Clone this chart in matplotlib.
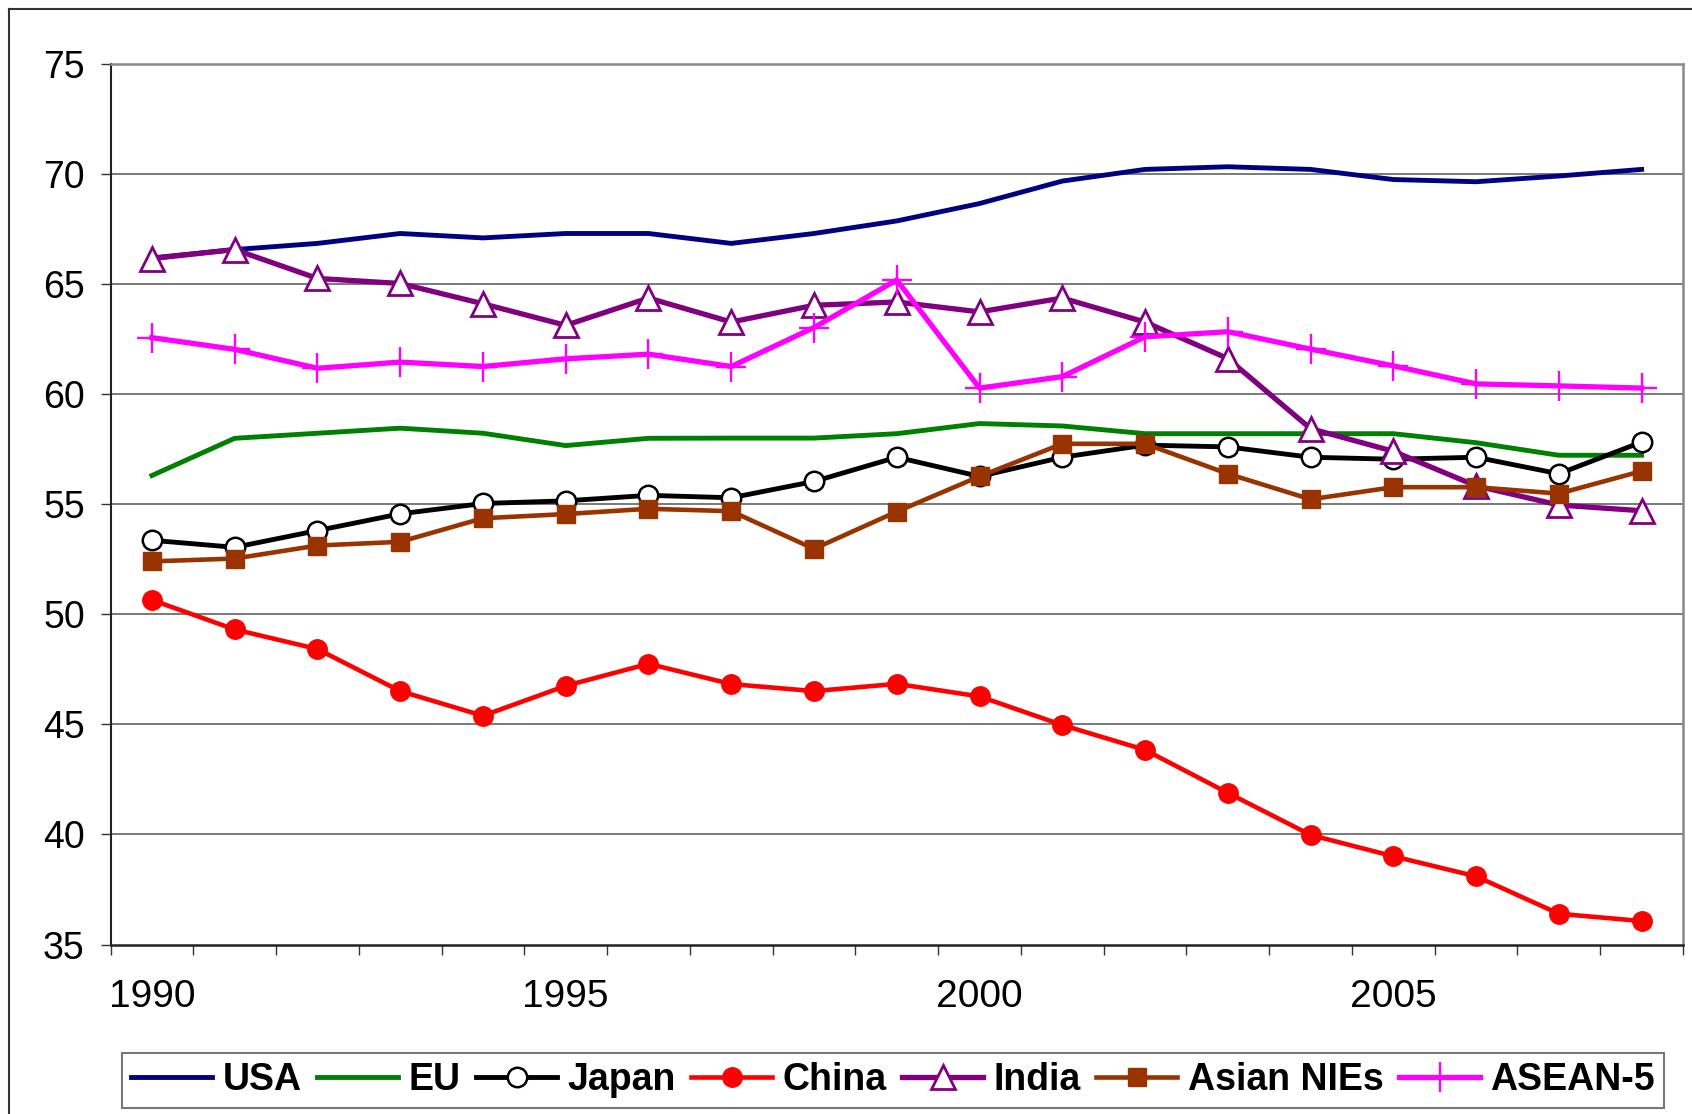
import matplotlib
matplotlib.use('Agg')
import matplotlib.pyplot as plt
from matplotlib.lines import Line2D
import numpy as np

plt.rcParams['font.family'] = ['Liberation Sans', 'DejaVu Sans']

years = list(range(1990, 2009))
usa = [66.18, 66.56, 66.84, 67.29, 67.09, 67.29, 67.29, 66.84, 67.29, 67.86,
       68.65, 69.67, 70.2, 70.32, 70.2, 69.74, 69.64, 69.9, 70.2]
eu = [56.3, 57.99, 58.22, 58.45, 58.22, 57.66, 57.99, 58.0, 58.0, 58.2,
      58.66, 58.55, 58.2, 58.2, 58.2, 58.2, 57.79, 57.22, 57.22]
japan = [53.36, 53.04, 53.8, 54.56, 55.03, 55.15, 55.4, 55.29, 56.03, 57.13,
         56.26, 57.13, 57.68, 57.6, 57.13, 57.04, 57.13, 56.38, 57.82]
china = [50.65, 49.31, 48.42, 46.51, 45.39, 46.75, 47.75, 46.83, 46.51, 46.84,
         46.27, 44.97, 43.84, 41.89, 39.98, 39.01, 38.1, 36.4, 36.07]
india = [66.15, 66.56, 65.25, 65.02, 64.1, 63.12, 64.36, 63.27, 64.03, 64.18,
         63.73, 64.36, 63.27, 61.61, 58.43, 57.4, 55.83, 54.96, 54.7]
nies = [52.4, 52.53, 53.12, 53.29, 54.36, 54.55, 54.79, 54.68, 52.97, 54.66,
        56.26, 57.74, 57.74, 56.38, 55.22, 55.77, 55.77, 55.48, 56.5]
asean = [62.56, 62.03, 61.17, 61.45, 61.25, 61.6, 61.81, 61.25, 63.02, 65.18,
         60.27, 60.79, 62.6, 62.83, 62.04, 61.28, 60.46, 60.37, 60.27]

series_names = ["USA", "EU", "Japan", "China", "India", "Asian NIEs", "ASEAN-5"]
x_tick_years = [1990, 1995, 2000, 2005]
y_ticks = [35, 40, 45, 50, 55, 60, 65, 70, 75]

W, H = 1692, 1114
fig = plt.figure(figsize=(W / 100, H / 100), dpi=100)
left, right, top, bottom = 110.5, 1683, 63.7, 944.6
ax = fig.add_axes([left / W, 1 - bottom / H, (right - left) / W, (bottom - top) / H])

ax.plot(years, usa, color='#000080', lw=3.5, label=series_names[0], zorder=3)
ax.plot(years, eu, color='#008000', lw=3.5, label=series_names[1], zorder=3)
ax.plot(years, japan, color='black', lw=3.5, marker='o', ms=14,
        mfc='white', mec='black', mew=1.8, label=series_names[2], zorder=4)
ax.plot(years, china, color='#FF0000', lw=3.3, marker='o', ms=14,
        mfc='#FF0000', mec='#FF0000', label=series_names[3], zorder=4)
ax.plot(years, india, color='#800080', lw=3.8, marker='^', ms=17,
        mfc='white', mec='#800080', mew=2.0, label=series_names[4], zorder=5)
ax.plot(years, nies, color='#993300', lw=3.3, marker='s', ms=13.5,
        mfc='#993300', mec='#993300', label=series_names[5], zorder=6)
ax.plot(years, asean, color='#FF00FF', lw=3.8, marker='+', ms=21,
        mew=1.7, label=series_names[6], zorder=7)

ax.set_xlim(years[0] - 0.5, years[-1] + 0.5)
ax.set_ylim(y_ticks[0], y_ticks[-1])
ax.set_yticks(y_ticks)
ax.set_yticklabels([str(v) for v in y_ticks], fontsize=27)
ax.set_xticks(x_tick_years)
ax.set_xticklabels([str(v) for v in x_tick_years], fontsize=28)
ax.set_xticks(np.arange(years[0] - 0.5, years[-1] + 1.0, 1.0), minor=True)
ax.tick_params(axis='x', which='major', length=0, pad=25)
ax.tick_params(axis='x', which='minor', length=7.5, width=1.0, direction='out', color='#333333')
ax.tick_params(axis='y', which='major', length=7.5, width=1.0, direction='out', pad=11, color='#333333')

for v in y_ticks[1:-1]:
    ax.axhline(v, color='#555555', lw=1.1, zorder=1)

ax.spines['left'].set_color('#222222')
ax.spines['left'].set_linewidth(1.5)
ax.spines['bottom'].set_color('#222222')
ax.spines['bottom'].set_linewidth(1.8)
ax.spines['top'].set_color('#888888')
ax.spines['top'].set_linewidth(1.8)
ax.spines['right'].set_color('#888888')
ax.spines['right'].set_linewidth(1.8)

leg = fig.legend(loc='center', bbox_to_anchor=(893 / W, 1 - 1080.4 / H), ncol=7,
                 prop={'weight': 'bold', 'size': 27}, handlelength=2.16,
                 handletextpad=0.27, columnspacing=0.42, borderpad=0.25,
                 fancybox=False, frameon=True, borderaxespad=0)
leg.get_frame().set_edgecolor('#555555')
leg.get_frame().set_linewidth(1.5)

# outer chart border
fig.add_artist(Line2D([9 / W, 9 / W], [0, 1 - 9 / H], transform=fig.transFigure,
                      color='#333333', lw=1.5))
fig.add_artist(Line2D([9 / W, 1], [1 - 9 / H, 1 - 9 / H], transform=fig.transFigure,
                      color='#333333', lw=1.5))

fig.savefig('out.png', dpi=100)
